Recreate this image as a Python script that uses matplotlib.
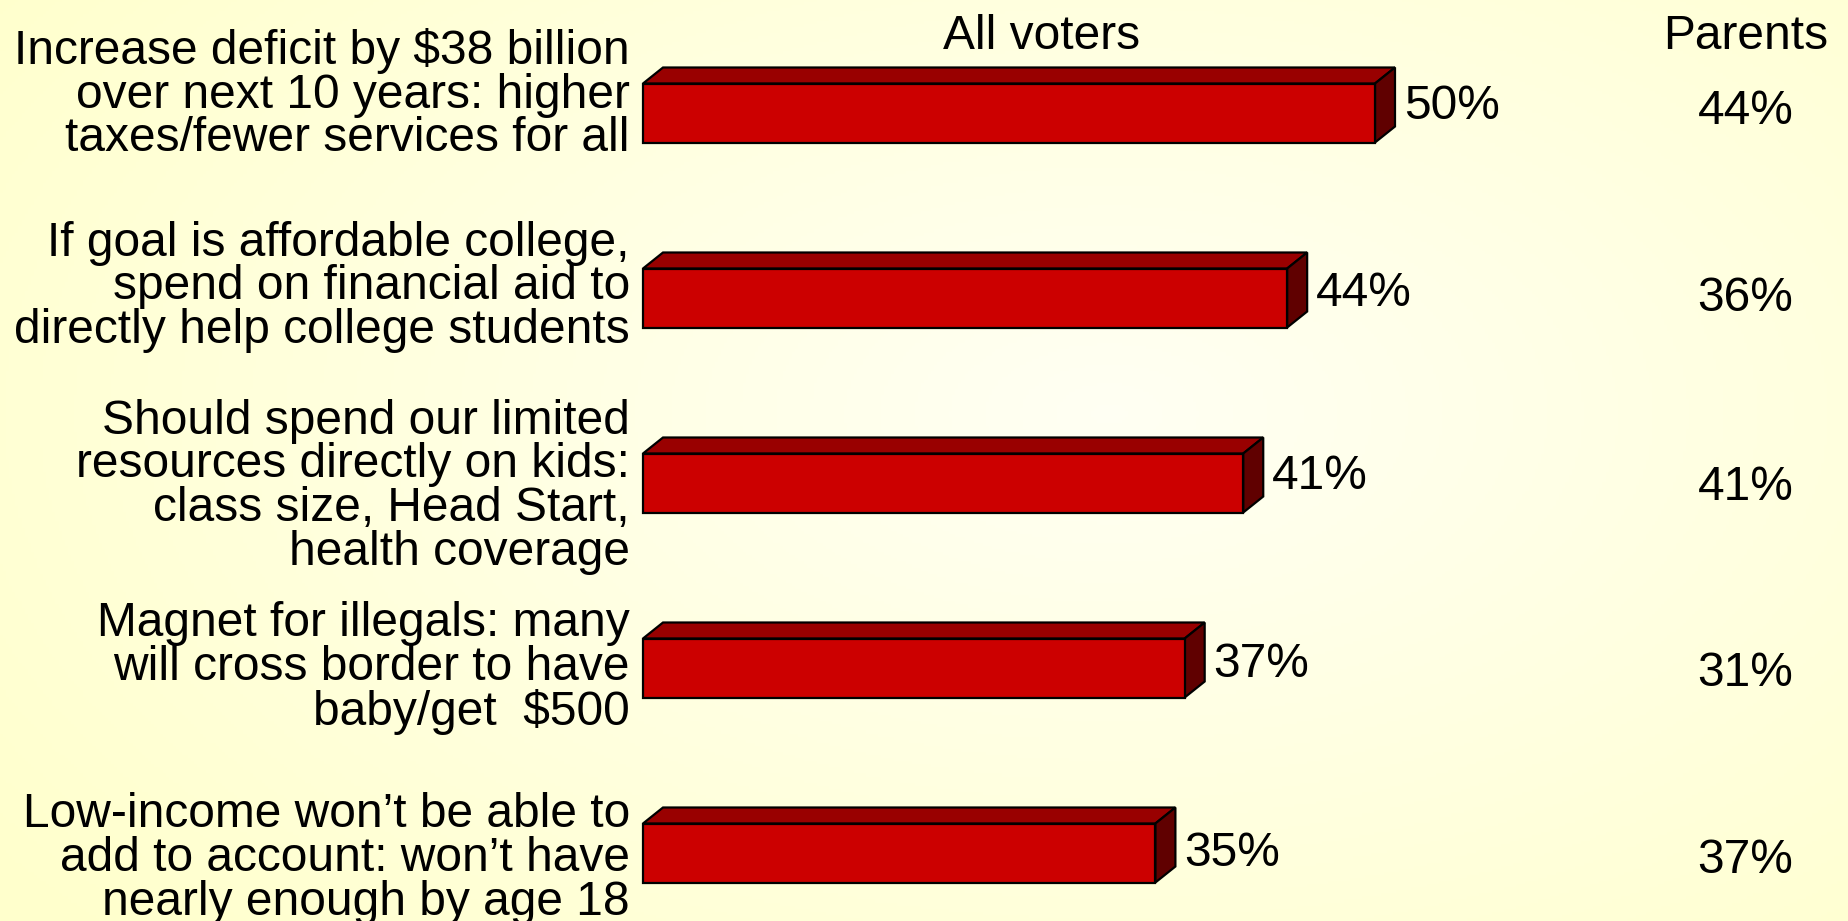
import numpy as np
import matplotlib
matplotlib.use("Agg")
import matplotlib.pyplot as plt
from matplotlib.patches import Polygon, Rectangle

plt.rcParams['font.family'] = ['Liberation Sans', 'DejaVu Sans']

# Data
categories = [
    "Increase deficit by $38 billion\nover next 10 years: higher\ntaxes/fewer services for all",
    "If goal is affordable college,\nspend on financial aid to\ndirectly help college students",
    "Should spend our limited\nresources directly on kids:\nclass size, Head Start,\nhealth coverage",
    "Magnet for illegals: many\nwill cross border to have\nbaby/get  $500",
    "Low-income won\u2019t be able to\nadd to account: won\u2019t have\nnearly enough by age 18",
]
all_voters = [50, 44, 41, 37, 35]
parents = [44, 36, 41, 31, 37]
column_titles = ["All voters", "Parents"]

W, H = 1849, 921
fig = plt.figure(figsize=(W / 100, H / 100), dpi=100)

# Soft radial background
bg = fig.add_axes([0, 0, 1, 1])
yy, xx = np.mgrid[0:1:300j, 0:1:600j]
r = np.sqrt(((xx - 0.6) / 0.75) ** 2 + ((yy - 0.45) / 0.85) ** 2)
r = np.clip(r, 0, 1)
c_in = np.array([1.0, 1.0, 0.955])
c_out = np.array([1.0, 1.0, 0.80])
img = c_in[None, None, :] * (1 - r[..., None]) + c_out[None, None, :] * r[..., None]
bg.imshow(img, extent=[0, 1, 0, 1], aspect='auto', origin='upper')
bg.axis('off')

# Main axes covering the figure: x in percent, y in category slots
ax = fig.add_axes([0, 0, 1, 1], facecolor='none')
px_per_pct = 14.64
x0_px = 643
ax.set_xlim(-x0_px / px_per_pct, (W - x0_px) / px_per_pct)
slot_px = 185
y0_px = 113
ax.set_ylim(4 + (H - 853) / slot_px, -y0_px / slot_px)
ax.axis('off')

bar_h = 59 / slot_px
dx = 20 / px_per_pct
dy = 16 / slot_px

front_c = '#CC0000'
top_c = '#990000'
side_c = '#600000'
lw = 1.6
fs = 34.5

value_offsets = [-0.037, -0.025, -0.037, -0.018, 0.0]
for i, (v, off) in enumerate(zip(all_voters, value_offsets)):
    top = i - bar_h / 2
    bot = i + bar_h / 2
    ax.add_patch(Polygon([(0, top), (dx, top - dy), (v + dx, top - dy), (v, top)],
                         closed=True, facecolor=top_c, edgecolor='black', lw=lw, zorder=2))
    ax.add_patch(Polygon([(v, top), (v + dx, top - dy), (v + dx, bot - dy), (v, bot)],
                         closed=True, facecolor=side_c, edgecolor='black', lw=lw, zorder=2))
    ax.add_patch(Rectangle((0, top), v, bar_h, facecolor=front_c,
                           edgecolor='black', lw=lw, zorder=3))
    ax.text(v + dx + 0.6, i + off, f"{v}%", fontsize=fs, ha='left', va='center', zorder=4)

label_offsets = [-0.10, -0.06, 0.02, 0.0, 0.03]
for i, (lab, off) in enumerate(zip(categories, label_offsets)):
    ax.text(-0.9, i + off, lab, fontsize=fs, ha='right', va='center',
            linespacing=0.96, zorder=4)

parent_x = 75.3
parent_offsets = [-0.008, 0.002, 0.022, 0.032, 0.042]
for i, (p, off) in enumerate(zip(parents, parent_offsets)):
    ax.text(parent_x, i + off, f"{p}%", fontsize=fs, ha='center', va='center', zorder=4)

header_y = -y0_px / slot_px + 36 / slot_px
ax.text(27.2, header_y, column_titles[0], fontsize=fs, ha='center', va='center')
ax.text(parent_x, header_y, column_titles[1], fontsize=fs, ha='center', va='center')

fig.savefig('out.png', dpi=100)
